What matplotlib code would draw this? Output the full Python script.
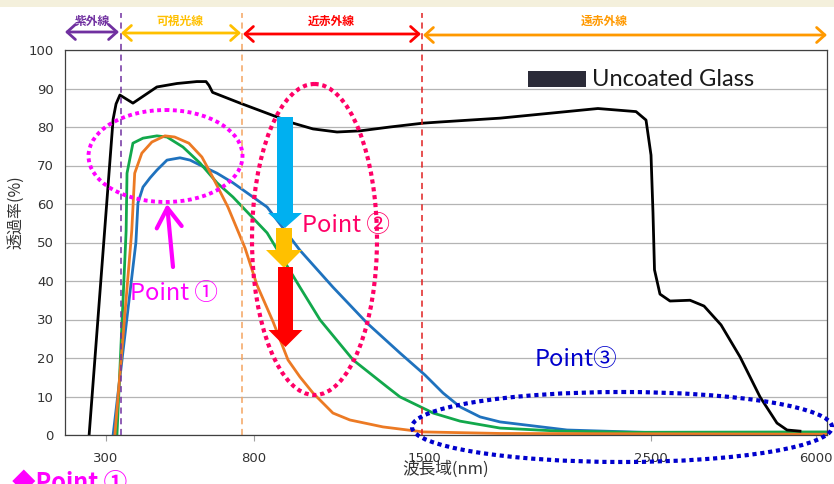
import numpy as np
import matplotlib
matplotlib.use('Agg')
import matplotlib.pyplot as plt
from matplotlib import patches
from matplotlib.ticker import NullLocator
from matplotlib.transforms import Affine2D

JP = ['Noto Sans CJK JP', 'DejaVu Sans']
plt.rcParams['font.family'] = ['DejaVu Sans']

# wavelength (nm) / transmittance (%)
glass_nm = [243, 324, 334, 347, 391, 472, 540, 607, 638, 648, 660, 753, 895, 961, 1043, 1142,
            1237, 1360, 1496, 1570, 1835, 2266, 2434, 2478, 2500, 2542, 2574, 2690, 2903, 3327,
            3624, 3985, 4388, 4812, 5172, 5385, 5660]
glass_t = [0, 82, 86, 88.3, 86.2, 90.4, 91.3, 91.8, 91.8, 90.8, 89.0, 86.2, 82.6, 81, 79.5, 78.7,
           79, 80, 81, 81.3, 82.3, 84.8, 84, 81.8, 72.7, 57.7, 42.9, 36.6, 34.8, 35,
           33.5, 28.6, 20.3, 9.9, 3.1, 1.3, 1.0]

blue_nm = [324, 401, 408, 425, 449, 472, 506, 550, 584, 618, 675, 729, 854, 989, 1125, 1265,
           1401, 1504, 1584, 1659, 1747, 1835, 2130, 2839, 6233]
blue_t = [0, 50, 60.3, 64.4, 66.8, 68.8, 71.4, 72, 71.4, 70.1, 68, 65.5, 59.2, 48, 38.4, 29.1,
          21.3, 15.6, 10.9, 7.3, 4.7, 3.4, 1.3, 0.5, 0.3]

green_nm = [337, 368, 371, 391, 425, 472, 506, 560, 618, 675, 729, 854, 989, 1072, 1208, 1348,
            1401, 1513, 1540, 1659, 1835, 2100, 2421, 6233]
green_t = [0, 53, 68, 75.8, 77.1, 77.7, 77.4, 74.8, 70.6, 65.5, 61.8, 52.5, 38.4, 29.9, 19.5, 12.5,
           9.9, 6.5, 5.7, 3.6, 1.8, 1.0, 0.7, 0.8]

orange_nm = [330, 387, 397, 421, 455, 499, 532, 580, 624, 657, 712, 770, 812, 878, 940,
             989, 1043, 1125, 1195, 1331, 1496, 1835, 6233]
orange_t = [0, 53, 68, 73.2, 76.1, 77.7, 77.4, 75.8, 72.2, 67.5, 59.2, 48.5, 39, 29.5, 19.5,
            15.1, 10.9, 5.7, 3.9, 2.1, 0.8, 0.4, 0.2]

xticks = [300, 800, 1500, 2500, 6000]
yticks = list(range(0, 101, 10))
bounds = [350, 760, 1490]  # UV / visible / near IR / far IR

# piecewise axis like the original (not linear, not log)
knot_nm = [0, 300, 800, 1500, 2500, 6000, 10000]
knot_pos = [17.2, 106, 254, 424, 651, 816, 1004.6]


def fwd(x):
    return np.interp(x, knot_nm, knot_pos)


def inv(p):
    return np.interp(p, knot_pos, knot_nm)


fig = plt.figure(figsize=(8.34, 4.84), dpi=100)
ax = fig.add_axes([65 / 834, 1 - 435 / 484, 762 / 834, 385 / 484])
px = Affine2D().scale(1 / 834, -1 / 484).translate(0, 1) + fig.transFigure

ax.set_xscale('function', functions=(fwd, inv))
ax.set_xlim(161.5, 6233)
ax.set_ylim(0, 100)

ax.plot(blue_nm, blue_t, color='#1F72BE', lw=2, solid_joinstyle='round')
ax.plot(green_nm, green_t, color='#12A84B', lw=2, solid_joinstyle='round')
ax.plot(orange_nm, orange_t, color='#EC7A24', lw=2, solid_joinstyle='round')
ax.plot(glass_nm, glass_t, color='black', lw=2, solid_joinstyle='round')

ax.set_xticks(xticks)
ax.set_xticklabels([str(t) for t in xticks])
ax.xaxis.set_minor_locator(NullLocator())
ax.set_yticks(yticks)
ax.yaxis.grid(True, color='#B4B4B4', lw=0.9)
ax.set_axisbelow(True)
ax.tick_params(axis='y', length=0, pad=8, labelsize=9.5, labelcolor='#333333')
ax.tick_params(axis='x', length=4, color='#A0A0A0', pad=8, labelsize=9.5, labelcolor='#333333')
for s in ax.spines.values():
    s.set_color('#404040')
    s.set_linewidth(0.9)

# region boundaries
top = (435 - 13) / 385
ax.axvline(bounds[0], ymax=top, color='#7030A0', ls=(0, (4, 3)), lw=1.1, clip_on=False)
ax.axvline(bounds[1], ymax=top, color='#F4A460', ls=(0, (4, 3)), lw=1.1, clip_on=False)
ax.axvline(bounds[2], ymax=top, color='#E02020', ls=(0, (4, 3)), lw=1.1, clip_on=False)

# beige strip at the very top
fig.add_artist(patches.Rectangle((0, 0), 834, 7, transform=px, color='#F4F0DC', lw=0))

# region arrows and names
regions = [
    ('紫外線', 65, 119, 32, '#7030A0', 92),
    ('可視光線', 121, 241, 33, '#FFC000', 180),
    ('近赤外線', 243, 421, 34, '#FF0000', 331),
    ('遠赤外線', 423, 827, 35, '#FF9900', 604),
]
for name, x0, x1, y, col, tx in regions:
    fig.add_artist(patches.FancyArrowPatch((x0, y), (x1, y), transform=px,
                                           arrowstyle='<->,head_length=0.5,head_width=0.45',
                                           mutation_scale=12, color=col, lw=2,
                                           shrinkA=0, shrinkB=0))
    fig.text(tx, 21, name, transform=px, ha='center', va='center', color=col,
             fontsize=8.5, fontweight='bold', family=JP)

# axis titles
fig.text(16, 212, '透過率(%)', transform=px, rotation=90, ha='center', va='center',
         fontsize=11.5, color='#333333', family=JP)
fig.text(446, 469, '波長域(nm)', transform=px, ha='center', va='center',
         fontsize=12, color='#333333', family=JP)

# legend-like label
fig.add_artist(patches.Rectangle((528, 71), 58, 16, transform=px, color='#2B2B38', lw=0))
fig.text(592, 80, 'Uncoated Glass', transform=px, ha='left', va='center',
         fontsize=17, color='#1A1A1A', family=['Lato', 'DejaVu Sans'])

# Point 1
fig.add_artist(patches.Ellipse((165.5, 156), 154, 92, transform=px, fill=False,
                               ec='#FF00FF', lw=2.8, ls=(0, (1, 0.9))))
fig.add_artist(patches.FancyArrowPatch((173, 267), (167, 204), transform=px,
                                       arrowstyle='->,head_length=0.7,head_width=0.45',
                                       mutation_scale=20, color='#FF00FF', lw=3,
                                       shrinkA=0, shrinkB=0))
fig.text(130, 293, 'Point ①', transform=px, ha='left', va='center',
         fontsize=17, color='#FF00FF', family=JP)

# Point 2
fig.add_artist(patches.Ellipse((314.5, 239.5), 125, 311, transform=px, fill=False,
                               ec='#FF0066', lw=3, ls=(0, (1, 0.9))))
fig.add_artist(patches.FancyArrow(285, 117, 0, 111, width=16, head_width=34, head_length=15,
                                  length_includes_head=True, transform=px, color='#00B0F0', lw=0))
fig.add_artist(patches.FancyArrow(284, 228, 0, 40, width=16, head_width=36, head_length=18,
                                  length_includes_head=True, transform=px, color='#FFC000', lw=0))
fig.add_artist(patches.FancyArrow(285.5, 267, 0, 80, width=15, head_width=34, head_length=17,
                                  length_includes_head=True, transform=px, color='#FF0000', lw=0))
fig.text(302, 226, 'Point ②', transform=px, ha='left', va='center',
         fontsize=17, color='#FF0066', family=JP)

# Point 3
fig.add_artist(patches.Ellipse((622, 427), 420, 70, transform=px, fill=False,
                               ec='#0000CC', lw=3, ls=(0, (1, 0.9))))
fig.text(535, 360, 'Point③', transform=px, ha='left', va='center',
         fontsize=17, color='#0000CC', family=JP)

# heading cut off at the bottom
fig.text(12, 471, '◆Point ①', transform=px, ha='left', va='top',
         fontsize=17, fontweight='bold', color='#FF00FF', family=JP)

fig.savefig('out.png', dpi=100)
